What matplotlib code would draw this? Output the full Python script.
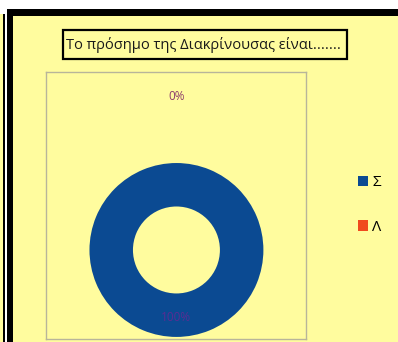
import numpy as np
import matplotlib.pyplot as plt
from matplotlib.patches import Rectangle

plt.rcParams['font.family'] = ['Open Sans', 'DejaVu Sans']

title = "Το πρόσημο της Διακρίνουσας είναι......."
labels = ["Σ", "Λ"]
values = [100, 0]
colors = ["#0B4A92", "#F04A1E"]
label_dist = [0.78, 1.76]   # radius where each percentage is written

W, H = 398, 342
yellow = "#FFFC9E"

fig = plt.figure(figsize=(W / 100, H / 100), dpi=100, facecolor="white")


def box(x0, y0, x1, y1, z=-5, **kw):
    # rectangle given in pixels, y measured from the top
    fig.patches.append(Rectangle((x0 / W, 1 - y1 / H), (x1 - x0) / W, (y1 - y0) / H,
                                 transform=fig.transFigure, zorder=z, **kw))


# sheet background and frame
box(8, 9, W, H, facecolor=yellow, edgecolor="none")
box(8, 9, W, 16, facecolor="black", edgecolor="none")
box(7.5, 9, 13.5, H, facecolor="black", edgecolor="none")
box(0, 14, 2.5, H, facecolor=yellow, edgecolor="none")
box(2.5, 14, 5, H, facecolor="black", edgecolor="none")

# title box
box(63, 30, 347, 59, facecolor=yellow, edgecolor="black", linewidth=1.6)
fig.text(203 / W, 1 - 45 / H, title, ha="center", va="center",
         fontsize=10.5, color="#1A1A1A")

# plot area
ax = fig.add_axes([46 / W, 1 - 339 / H, 260 / W, 267 / H])
ax.set_facecolor(yellow)
wedges, _ = ax.pie(values, colors=colors, startangle=90, counterclock=False,
                   radius=1.0, wedgeprops=dict(width=0.5, edgecolor="none"),
                   frame=True)
ax.set_xlim(-1.5, 1.49)
ax.set_ylim(-1.023, 2.046)
ax.set_aspect("equal", adjustable="box")
ax.set_xticks([])
ax.set_yticks([])
for s in ax.spines.values():
    s.set_color("#B8B59A")
    s.set_linewidth(1.0)

# percentage labels at each wedge's mid angle
total = sum(values)
start = 90.0
lab_colors = ["#5A2C92", "#8C3D6C"]
for v, d, c in zip(values, label_dist, lab_colors):
    sweep = 360.0 * v / total
    mid = np.deg2rad(start - sweep / 2)
    ax.text(d * np.cos(mid), d * np.sin(mid), f"{v / total:.0%}",
            ha="center", va="center", fontsize=8.5, color=c)
    start -= sweep

fig.legend(wedges, labels, loc="center left",
           bbox_to_anchor=(350 / W, 1 - 205 / H), frameon=False,
           fontsize=11, handlelength=0.65, handleheight=0.65,
           handletextpad=0.3, labelspacing=1.95, borderpad=0)

fig.savefig("out.png", dpi=100, facecolor="white")
